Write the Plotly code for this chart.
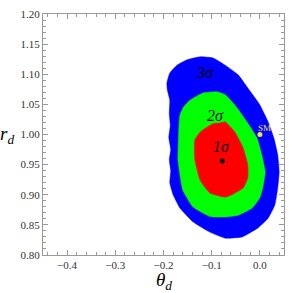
import plotly.graph_objects as go

# Boundary of the 3-sigma (blue) region
blue_theta = [-0.193, -0.187, -0.172, -0.151, -0.124, -0.097, -0.072, -0.045, -0.025, 0.000,
              0.017, 0.029, 0.037, 0.040, 0.037, 0.031, 0.017, -0.004, -0.037, -0.072,
              -0.104, -0.139, -0.166, -0.180, -0.187, -0.185, -0.188, -0.185, -0.189, -0.186,
              -0.188, -0.187, -0.192]
blue_r = [1.085, 1.102, 1.115, 1.124, 1.129, 1.127, 1.115, 1.099, 1.077, 1.049,
          1.021, 0.994, 0.966, 0.938, 0.911, 0.883, 0.861, 0.845, 0.830, 0.828,
          0.838, 0.855, 0.878, 0.900, 0.920, 0.940, 0.958, 0.975, 0.995, 1.015,
          1.035, 1.057, 1.074]

# Boundary of the 2-sigma (green) region
green_theta = [-0.089, -0.072, -0.052, -0.027, -0.006, 0.004, 0.011, 0.006, 0.000, -0.016,
               -0.045, -0.072, -0.104, -0.139, -0.160, -0.170, -0.169, -0.166, -0.158, -0.145,
               -0.118]
green_r = [1.071, 1.066, 1.049, 1.021, 0.994, 0.966, 0.938, 0.911, 0.895, 0.878,
           0.866, 0.863, 0.864, 0.880, 0.908, 0.958, 0.991, 1.032, 1.046, 1.057,
           1.069]

# Boundary of the 1-sigma (red) region
red_theta = [-0.083, -0.072, -0.052, -0.035, -0.025, -0.025, -0.035, -0.058, -0.072, -0.104,
             -0.124, -0.135, -0.135, -0.124, -0.110, -0.097]
red_r = [1.019, 1.021, 1.004, 0.978, 0.949, 0.928, 0.911, 0.900, 0.896, 0.903,
         0.924, 0.958, 0.991, 1.004, 1.012, 1.018]

best_fit = (-0.078, 0.956)
sm_point = (0.0, 1.0)

region_labels = ["3σ", "2σ", "1σ"]
label_theta = [-0.113, -0.092, -0.080]
label_r = [1.103, 1.032, 0.980]

serif = "Liberation Serif, Times New Roman, serif"

fig = go.Figure()
for th, rr, col in [(blue_theta, blue_r, "#0000ff"),
                    (green_theta, green_r, "#00ff00"),
                    (red_theta, red_r, "#ff0000")]:
    fig.add_trace(go.Scatter(x=th + [th[0]], y=rr + [rr[0]], mode="lines", fill="toself",
                             fillcolor=col,
                             line=dict(color=col, width=0.5, shape="spline", smoothing=0.4),
                             hoverinfo="skip", showlegend=False))

fig.add_trace(go.Scatter(x=[best_fit[0]], y=[best_fit[1]], mode="markers",
                         marker=dict(color="black", size=5), showlegend=False))
fig.add_trace(go.Scatter(x=[sm_point[0]], y=[sm_point[1]], mode="markers",
                         marker=dict(color="#f5e83a", size=5), showlegend=False))

for t, x, y in zip(region_labels, label_theta, label_r):
    fig.add_annotation(x=x, y=y, text="<i>" + t + "</i>", showarrow=False,
                       font=dict(family=serif, size=16, color="black"))
fig.add_annotation(x=0.0105, y=1.011, text="SM", showarrow=False,
                   font=dict(family=serif, size=9, color="#f0e030"))

fig.add_annotation(xref="paper", yref="paper", x=0.5, y=-0.108, yanchor="middle",
                   text="<i>θ</i><sub><i>d</i></sub>", showarrow=False,
                   font=dict(family=serif, size=19, color="black"))
fig.add_annotation(xref="paper", yref="paper", x=-0.148, y=0.5, xanchor="center",
                   yanchor="middle",
                   text="<i>r</i><sub><i>d</i></sub>", showarrow=False,
                   font=dict(family=serif, size=19, color="black"))

axis_common = dict(showgrid=False, zeroline=False, showline=True, linecolor="#999999",
                   linewidth=1, mirror="allticks", ticks="inside", tickcolor="#999999",
                   ticklen=5, tickwidth=1, automargin=False,
                   tickfont=dict(family=serif, size=11, color="#333333"))
fig.update_xaxes(range=[-0.45, 0.05], tick0=0, dtick=0.1, tickformat=".1f",
                 minor=dict(ticks="inside", dtick=0.02, ticklen=3, tickcolor="#999999",
                            showgrid=False),
                 **axis_common)
fig.update_yaxes(range=[0.80, 1.20], tick0=0.8, dtick=0.05, tickformat=".2f",
                 minor=dict(ticks="inside", dtick=0.01, ticklen=3, tickcolor="#999999",
                            showgrid=False),
                 **axis_common)

fig.update_layout(width=291, height=293, margin=dict(l=43, r=7, t=14, b=38),
                  paper_bgcolor="white", plot_bgcolor="white", showlegend=False)

fig.write_html("out.html", config={"displayModeBar": False},
               post_script="document.body.style.margin='0';document.body.style.padding='0';")
